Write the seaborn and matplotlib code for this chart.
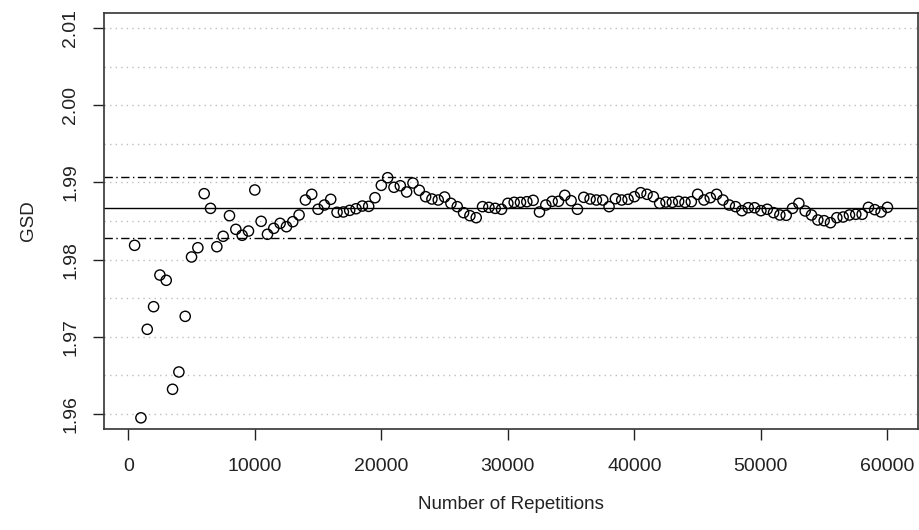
import numpy as np
import matplotlib
matplotlib.use("Agg")
import matplotlib.pyplot as plt
import seaborn as sns

# number of repetitions (every 500) and running GSD estimate
repetitions = list(range(500, 60001, 500))
gsd = [
    1.98185, 1.95950, 1.97097, 1.97390, 1.97800, 1.97732, 1.96320, 1.96544,
    1.97265, 1.98034, 1.98154, 1.98854, 1.98664, 1.98167, 1.98302, 1.98569,
    1.98392, 1.98315, 1.98370, 1.98902, 1.98496, 1.98328, 1.98405, 1.98470,
    1.98426, 1.98491, 1.98578, 1.98772, 1.98846, 1.98652, 1.98707, 1.98781,
    1.98613, 1.98617, 1.98638, 1.98659, 1.98694, 1.98690, 1.98802, 1.98962,
    1.99061, 1.98937, 1.98957, 1.98876, 1.98992, 1.98898, 1.98815, 1.98785,
    1.98772, 1.98811, 1.98729, 1.98686, 1.98608, 1.98569, 1.98543, 1.98686,
    1.98677, 1.98664, 1.98652, 1.98729, 1.98742, 1.98742, 1.98750, 1.98768,
    1.98617, 1.98707, 1.98755, 1.98755, 1.98833, 1.98763, 1.98652, 1.98807,
    1.98785, 1.98772, 1.98772, 1.98686, 1.98789, 1.98772, 1.98781, 1.98815,
    1.98867, 1.98846, 1.98815, 1.98729, 1.98746, 1.98742, 1.98755, 1.98742,
    1.98750, 1.98846, 1.98772, 1.98802, 1.98846, 1.98772, 1.98707, 1.98686,
    1.98634, 1.98672, 1.98672, 1.98634, 1.98652, 1.98608, 1.98578, 1.98574,
    1.98664, 1.98729, 1.98630, 1.98578, 1.98513, 1.98504, 1.98478, 1.98543,
    1.98552, 1.98578, 1.98587, 1.98587, 1.98677, 1.98647, 1.98617, 1.98677,
]
mean_gsd = 1.98672
ci_bounds = [1.98275, 1.99070]
grid_levels = [1.960, 1.965, 1.970, 1.975, 1.980, 1.985, 1.990, 1.995, 2.000, 2.005, 2.010]
y_ticks = [1.96, 1.97, 1.98, 1.99, 2.00, 2.01]
y_ticklabels = ["1.96", "1.97", "1.98", "1.99", "2.00", "2.01"]
x_ticks = [0, 10000, 20000, 30000, 40000, 50000, 60000]

sns.set_style("white")
plt.rcParams['font.family'] = ['Liberation Sans', 'DejaVu Sans']

fig = plt.figure(figsize=(9.19, 5.30), dpi=100)
ax = fig.add_axes([0.1137, 0.1898, 0.8847, 0.7864])

for g in grid_levels:
    ax.axhline(g, color='#bdbdbd', lw=1.0, ls=(0, (1, 3)), zorder=0)

ax.axhline(mean_gsd, color='black', lw=1.0, zorder=1)
for b in ci_bounds:
    ax.axhline(b, color='black', lw=1.0, ls=(0, (6, 2.5, 1, 2.5)), zorder=1)

sns.scatterplot(x=repetitions, y=gsd, ax=ax, marker='o', s=54,
                facecolor='none', edgecolor='black', linewidth=1.0, zorder=2)

ax.set_xlim(-1880, 62380)
ax.set_ylim(1.958, 2.012)
ax.set_xticks(x_ticks)
ax.set_xticklabels([str(t) for t in x_ticks])
ax.set_yticks(y_ticks)
ax.set_yticklabels(y_ticklabels, rotation=90, va='center')

ax.tick_params(axis='both', direction='out', length=8, width=1, colors='#222222',
               labelsize=14, left=True, bottom=True)
ax.tick_params(axis='x', pad=12.5)
ax.tick_params(axis='y', pad=10)
for sp in ax.spines.values():
    sp.set_color('#333333')
    sp.set_linewidth(1.2)

ax.set_xlabel("Number of Repetitions", fontsize=13.5, labelpad=15, color='#222222')
ax.set_ylabel("GSD", fontsize=13.5, labelpad=18, color='#222222')

fig.savefig("out.png", dpi=100)
